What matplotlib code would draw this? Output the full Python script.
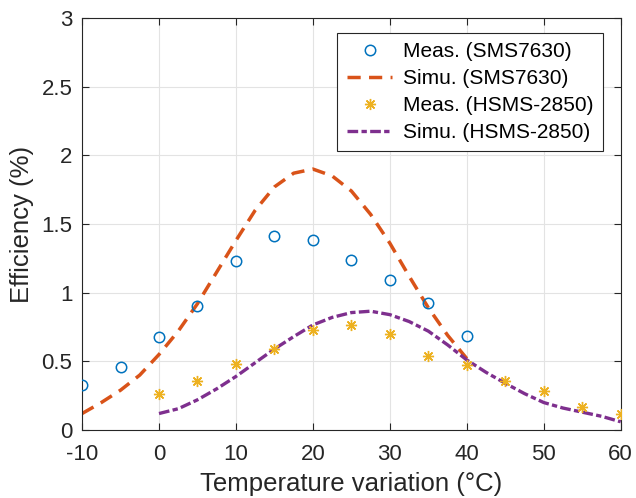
import matplotlib
matplotlib.use("Agg")
import matplotlib.pyplot as plt

plt.rcParams["font.family"] = ["Liberation Sans", "DejaVu Sans"]
plt.rcParams["axes.unicode_minus"] = False

# measured points
meas_temp_sms = [-10, -5, 0, 5, 10, 15, 20, 25, 30, 35, 40]
meas_eff_sms = [0.33, 0.46, 0.68, 0.905, 1.23, 1.41, 1.38, 1.24, 1.09, 0.925, 0.687]

meas_temp_hsms = [0, 5, 10, 15, 20, 25, 30, 35, 40, 45, 50, 55, 60]
meas_eff_hsms = [0.262, 0.357, 0.48, 0.588, 0.728, 0.767, 0.701, 0.541, 0.473,
                 0.357, 0.286, 0.165, 0.119]

# simulated curves
sim_temp_sms = [-10, -7.5, -5, -2.5, 0, 2.5, 5, 7.5, 10, 12.5, 15, 17.5, 20,
                22.5, 25, 27.5, 30, 32.5, 35, 37.5, 40]
sim_eff_sms = [0.12, 0.20, 0.29, 0.40, 0.55, 0.72, 0.92, 1.15, 1.38, 1.60, 1.77,
               1.87, 1.90, 1.85, 1.74, 1.57, 1.36, 1.12, 0.89, 0.69, 0.52]

sim_temp_hsms = [0, 2.5, 5, 7.5, 10, 12.5, 15, 17.5, 20, 22.5, 25, 27.5, 30,
                 32.5, 35, 37.5, 40, 42.5, 45, 47.5, 50, 52.5, 55, 57.5, 60]
sim_eff_hsms = [0.12, 0.155, 0.22, 0.30, 0.39, 0.49, 0.59, 0.68, 0.765, 0.82,
                0.855, 0.865, 0.84, 0.79, 0.72, 0.62, 0.51, 0.42, 0.34, 0.265,
                0.20, 0.16, 0.13, 0.10, 0.06]

xticks = [-10, 0, 10, 20, 30, 40, 50, 60]
yticks = [0, 0.5, 1, 1.5, 2, 2.5, 3]
ytick_labels = ["0", "0.5", "1", "1.5", "2", "2.5", "3"]

fig = plt.figure(figsize=(6.36, 4.98), dpi=100)
ax = fig.add_axes([0.129, 0.1365, 0.847, 0.8274])

ax.plot(meas_temp_sms, meas_eff_sms, "o", ls="none", mfc="none", mec="#0072BD",
        ms=7.5, mew=1.1, label="Meas. (SMS7630)", zorder=3)
ax.plot(sim_temp_sms, sim_eff_sms, color="#D95319", lw=2.5, dashes=(3.8, 2.4),
        label="Simu. (SMS7630)", zorder=2)
ax.plot(meas_temp_hsms, meas_eff_hsms, marker=(8, 2, 0), ls="none", color="#EDB120",
        mec="#EDB120", ms=8, mew=1.0, label="Meas. (HSMS-2850)", zorder=3)
ax.plot(sim_temp_hsms, sim_eff_hsms, color="#7E2F8E", lw=2.4,
        dashes=(3.2, 1.0, 1.6, 1.0), label="Simu. (HSMS-2850)", zorder=2)

ax.set_xlim(-10, 60)
ax.set_ylim(0, 3)
ax.set_xticks(xticks)
ax.set_yticks(yticks)
ax.set_yticklabels(ytick_labels)
ax.tick_params(direction="in", top=True, right=True, labelsize=16, colors="#262626",
               length=5, width=0.8)
ax.tick_params(axis="x", pad=10)
ax.tick_params(axis="y", pad=7)
ax.grid(True, color="#E3E3E3", lw=0.8)
ax.set_axisbelow(True)
for s in ax.spines.values():
    s.set_color("#262626")
    s.set_linewidth(0.8)

ax.set_xlabel("Temperature variation (°C)", fontsize=18.5, color="#262626", labelpad=5)
ax.set_ylabel("Efficiency (%)", fontsize=18.5, color="#262626", labelpad=5)

leg = ax.legend(loc="upper right", bbox_to_anchor=(0.9666, 0.9636), borderaxespad=0,
                fontsize=15, fancybox=False, framealpha=1, edgecolor="#262626",
                handlelength=2.2, borderpad=0.45, labelspacing=0.38,
                handletextpad=0.5)
leg.get_frame().set_linewidth(0.8)

fig.savefig("out.png", dpi=100)
